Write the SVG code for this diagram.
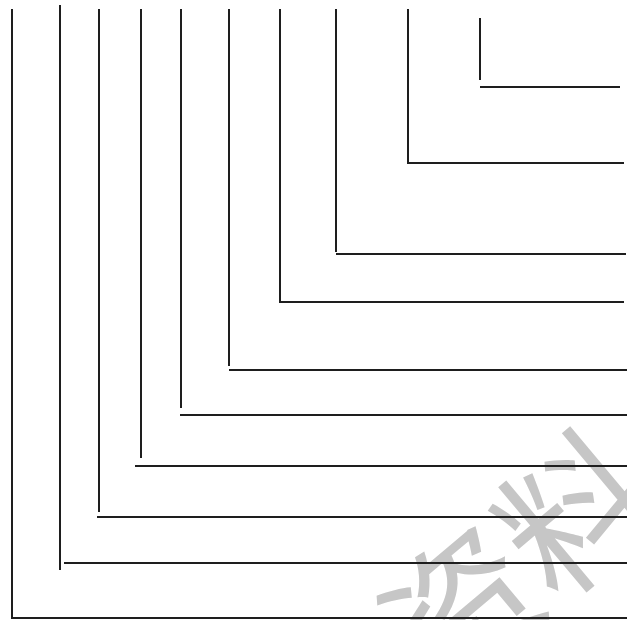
<svg xmlns="http://www.w3.org/2000/svg" width="627" height="620" viewBox="0 0 627 620">
<style>
.l{fill:none;stroke:#1e1e1e;stroke-width:2}
.wm{font-family:"Noto Sans CJK SC","Noto Sans",sans-serif;font-size:150px;fill:#c6c6c6}
</style>
<rect width="627" height="620" fill="#fff"/>
<text class="wm" x="0" y="0" transform="translate(440,700) rotate(-40)">资料</text>
<g id="connectors">
<g id="l1"><path class="l" d="M480 18V80M480 87H620"/></g>
<g id="l2"><path class="l" d="M408 9V163H624"/></g>
<g id="l3"><path class="l" d="M336 9V252M336 254H626"/></g>
<g id="l4"><path class="l" d="M280 9V302H624"/></g>
<g id="l5"><path class="l" d="M229 9V366M229 370H627"/></g>
<g id="l6"><path class="l" d="M181 9V408M180 415H627"/></g>
<g id="l7"><path class="l" d="M141 9V458M135 466H627"/></g>
<g id="l8"><path class="l" d="M99 9V512M97 517H627"/></g>
<g id="l9"><path class="l" d="M60 5V570M64 563H627"/></g>
<g id="l10"><path class="l" d="M12 9V618H627"/></g>
</g>
</svg>
